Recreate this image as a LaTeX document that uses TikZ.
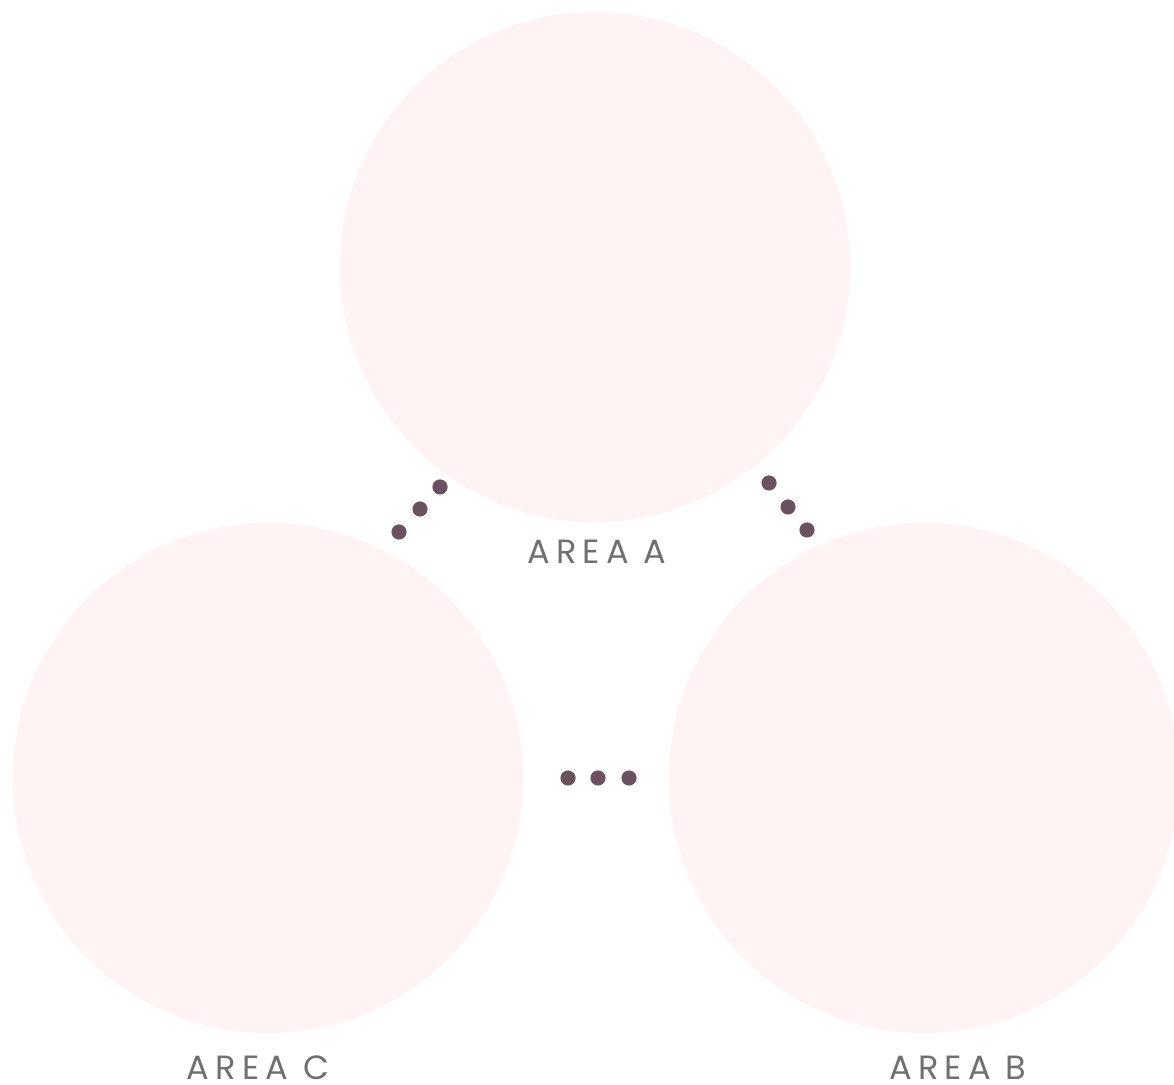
\documentclass[tikz,border=0pt]{standalone}
\usepackage{fontspec}
\newfontfamily\areafont{Poppins}[LetterSpace=18]
\usepackage{tikz}
\usetikzlibrary{positioning, calc}
\definecolor{areafill}{HTML}{FFF3F3}
\definecolor{dotcol}{HTML}{6B5261}
\definecolor{labelgray}{HTML}{707070}

\begin{document}
\begin{tikzpicture}[x=0.5pt, y=-0.5pt,
        area/.style={circle, fill=areafill, minimum size=255pt, inner sep=0pt},
        dot/.style={circle, fill=dotcol, minimum size=7.6pt, inner sep=0pt},
        lbl/.style={anchor=base, inner sep=0pt, text depth=0pt, text=labelgray, font=\areafont\fontsize{16.8pt}{19pt}\selectfont},
    ]
        \useasboundingbox (0,0) rectangle (1174,1085);
        \clip (0,0) rectangle (1174,1085);
        \node[area] (A) at (595,267) {};
        \node[area] (C) at (268,778) {};
        \node[area] (B) at (924,778) {};
        \node[lbl] (LA) at (597,564)  {AREA A};
        \node[lbl] (LC) at (258,1079) {AREA C};
        \node[lbl] (LB) at (958,1079) {AREA B};
        % dots between the areas
        \foreach \x/\y [count=\i] in {399/532, 420/509, 440/487} { \node[dot] (ac\i) at (\x,\y) {}; }
        \foreach \x/\y [count=\i] in {769/483, 788/507, 807/530} { \node[dot] (ab\i) at (\x,\y) {}; }
        \foreach \x [count=\i] in {568, 598, 629} { \node[dot] (cb\i) at (\x,778) {}; }
    \end{tikzpicture}
\end{document}
